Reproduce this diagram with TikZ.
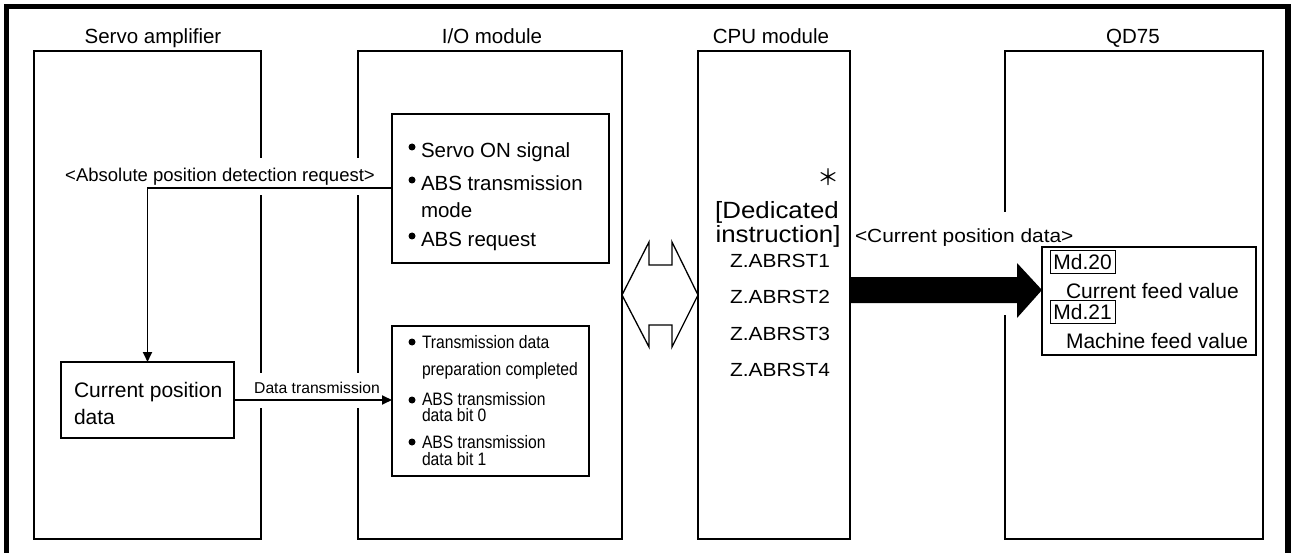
\documentclass[tikz,border=0pt]{standalone}
\usepackage{fontspec}
\setmainfont{Liberation Sans}
\newfontfamily\fwide[FakeStretch=1.1]{Liberation Sans}
\newfontfamily\fnarrow[FakeStretch=0.87]{Liberation Sans}
\newfontfamily\cjk{Noto Sans CJK JP}
\usetikzlibrary{arrows.meta,calc}
\begin{document}
\begin{tikzpicture}[x=1pt,y=-1pt,
  every node/.style={inner sep=0pt, outer sep=0pt},
  box/.style={draw, line width=1.8pt, anchor=north west},
  ttl/.style={anchor=base, font=\fontsize{20.5}{24}\selectfont},
  upt/.style={anchor=base west, font=\fontsize{20.5}{25}\selectfont},
  lowt/.style={anchor=base west, font=\fnarrow\fontsize{18}{20}\selectfont},
  cput/.style={anchor=base, font=\fwide\fontsize{19}{22}\selectfont},
  cpub/.style={anchor=base, font=\fwide\fontsize{23.5}{26}\selectfont},
  mdt/.style={anchor=base west, font=\fontsize{21}{25}\selectfont},
  mdbox/.style={draw, line width=0.9pt, anchor=north west, minimum width=65pt, minimum height=23pt, font=\fontsize{21}{25}\selectfont},
  conn/.style={line width=1.8pt},
  tip/.style={-{Triangle[length=10pt,width=9pt]}},
  gapw/.style={fill=white}
]
\useasboundingbox (0,0) rectangle (1292,553);

% outer frame (open at the bottom)
\draw[line width=5.5pt] (6.5,553) -- (6.5,6.5) -- (1288,6.5) -- (1288,553);

% module boxes
\node[box, minimum width=227pt, minimum height=488pt] (servo) at (34,51) {};
\node[box, minimum width=264pt, minimum height=488pt] (io) at (358,51) {};
\node[box, minimum width=152pt, minimum height=488pt] (cpu) at (698,51) {};
\node[box, minimum width=258pt, minimum height=488pt] (qd) at (1005,51) {};
\node[box, minimum width=217pt, minimum height=149pt] (ioup) at (392,114) {};
\node[box, minimum width=197pt, minimum height=150pt] (iolow) at (392,326) {};
\node[box, minimum width=173pt, minimum height=76pt] (cur) at (61,362) {};
\node[box, minimum width=214pt, minimum height=108pt] (md) at (1042,247) {};

% gaps in the box edges
\fill[gapw] (258,158) rectangle (264,195);
\fill[gapw] (258,373) rectangle (264,408);
\fill[gapw] (355,158) rectangle (361,195);
\fill[gapw] (355,373) rectangle (361,408);
\fill[gapw] (1002,212) rectangle (1008,315);

% titles
\node[ttl] (tservo) at (153,44) {Servo amplifier};
\node[ttl] (tio) at (492,44) {I/O module};
\node[ttl] (tcpu) at (771,44) {CPU module};
\node[ttl] (tqd) at (1133,44) {QD75};

% connectors
\draw[conn, tip] (ioup.west |- 0,188) -| (cur.north);
\draw[conn, tip] (cur.east) -- (cur.east -| iolow.west);
\draw[line width=1.3pt] (io.east) -- (649,242) -- (649,265) -- (672,265) -- (672,242) -- (cpu.west)
  -- (672,347) -- (672,325) -- (649,325) -- (649,347) -- cycle;
\fill (cpu.east |- 0,277) -- (1017,277) -- (1017,263) -- (md.west |- 0,290) -- (1017,318)
  -- (1017,303) -- (cpu.east |- 0,303) -- cycle;

% labels on connectors
\node[anchor=base, font=\fontsize{18.5}{22}\selectfont] (lreq) at (220,182) {<Absolute position detection request>};
\node[anchor=base, font=\fontsize{15.7}{18}\selectfont] (ldt) at (317,393) {Data transmission};
\node[anchor=base west, font=\fwide\fontsize{19}{22}\selectfont] (lcur) at (855,243) {<Current position data>};

% current position data
\node[anchor=base west, font=\fontsize{21}{25}\selectfont] (curt1) at (74,397) {Current position};
\node[anchor=base west, font=\fontsize{21}{25}\selectfont] (curt2) at (74,424) {data};

% I/O upper box
\fill (412,147) circle (3.5pt);
\fill (412,180) circle (3.5pt);
\fill (412,236) circle (3.5pt);
\node[upt] (u1) at (421,158) {Servo ON signal};
\node[upt] (u2) at (421,191) {ABS transmission};
\node[upt] (u3) at (421,218) {mode};
\node[upt] (u4) at (421,247) {ABS request};

% I/O lower box
\fill (412,342) circle (3.5pt);
\fill (412,400) circle (3.5pt);
\fill (412,442) circle (3.5pt);
\node[lowt] (l1) at (422,348) {Transmission data};
\node[lowt] (l2) at (422,375) {preparation completed};
\node[lowt] (l3) at (422,405) {ABS transmission};
\node[lowt] (l4) at (422,421) {data bit 0};
\node[lowt] (l5) at (422,448) {ABS transmission};
\node[lowt] (l6) at (422,465) {data bit 1};

% CPU module texts
\node[font=\cjk\fontsize{22}{22}\selectfont] (ast) at (828,177) {＊};
\node[cpub] (c1) at (777,219) {[Dedicated};
\node[cpub] (c2) at (778,243) {instruction]};
\node[cput] (z1) at (780,267) {Z.ABRST1};
\node[cput] (z2) at (780,303) {Z.ABRST2};
\node[cput] (z3) at (780,340) {Z.ABRST3};
\node[cput] (z4) at (780,376) {Z.ABRST4};

% QD75 monitor data
\node[mdbox] (md20) at (1050,250) {Md.20};
\node[mdt] (m1) at (1066,298) {Current feed value};
\node[mdbox] (md21) at (1050,300) {Md.21};
\node[mdt] (m2) at (1066,348) {Machine feed value};
\end{tikzpicture}
\end{document}
